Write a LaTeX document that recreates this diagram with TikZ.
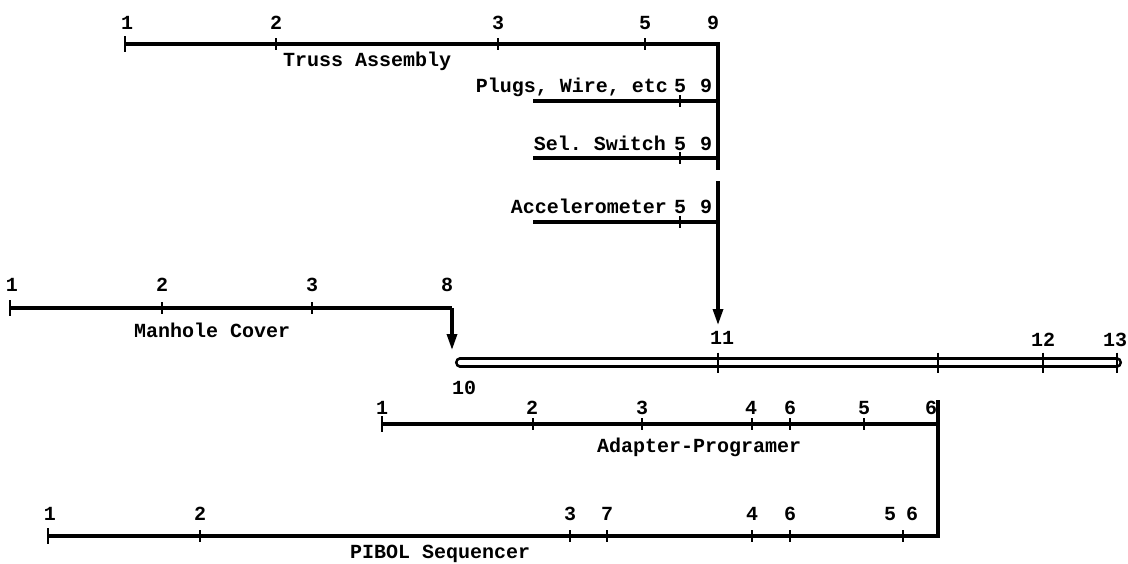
\documentclass[tikz,border=0pt]{standalone}
\usepackage{fontspec}
\setmonofont{Liberation Mono}
\usetikzlibrary{arrows.meta}
\begin{document}
\begin{tikzpicture}[x=1pt,y=-1pt,
  bar/.style={line width=3.2pt},
  tickmark/.style={line width=2pt},
  lbl/.style={font=\fontsize{20}{24}\selectfont\ttfamily\bfseries, inner sep=0pt},
  arr/.style={line width=3.2pt,-{Triangle[length=16pt,width=10pt]}},
  dbl/.style={line width=2.8pt,double=white,double distance=4.5pt,line cap=round}]
\useasboundingbox (0,0) rectangle (1128,563);
% ---------- Truss Assembly ----------
\coordinate (t1) at (125,44);
\coordinate (t2) at (276,44);
\coordinate (t3) at (498,44);
\coordinate (t5) at (645,44);
\coordinate (t9) at (718,44);
\coordinate (p0) at (533,101);
\coordinate (p5) at (680,101);
\coordinate (p9) at (718,101);
\coordinate (s0) at (533,158);
\coordinate (s5) at (680,158);
\coordinate (s9) at (718,158);
\coordinate (vend) at (718,170);
\coordinate (astart) at (718,181);
\coordinate (a0) at (533,222);
\coordinate (a5) at (680,222);
\coordinate (a9) at (718,222);
\coordinate (atip) at (718,325);
% ---------- Manhole ----------
\coordinate (m1) at (10,308);
\coordinate (m2) at (162,308);
\coordinate (m3) at (312,308);
\coordinate (m8) at (452,308);
\coordinate (mtip) at (452,350);
% ---------- double line ----------
\coordinate (d10) at (460,362.5);
\coordinate (d11) at (718,362.5);
\coordinate (dx) at (938,362.5);
\coordinate (d12) at (1043,362.5);
\coordinate (d13) at (1117,362.5);
% ---------- Adapter ----------
\coordinate (ad1) at (382,424);
\coordinate (ad2) at (533,424);
\coordinate (ad3) at (642,424);
\coordinate (ad4) at (752,424);
\coordinate (ad6a) at (790,424);
\coordinate (ad5) at (864,424);
\coordinate (ad6) at (938,424);
\coordinate (adtop) at (938,400);
% ---------- PIBOL ----------
\coordinate (pb1) at (48,536);
\coordinate (pb2) at (200,536);
\coordinate (pb3) at (570,536);
\coordinate (pb7) at (607,536);
\coordinate (pb4) at (752,536);
\coordinate (pb6) at (790,536);
\coordinate (pb56) at (903,536);
\coordinate (pbc) at (938,536);

% lines
\draw[bar] (t1) -- (t9) -- (vend);
\draw[bar] (p0) -- (p9);
\draw[bar] (s0) -- (s9);
\draw[bar] (a0) -- (a9);
\draw[arr] (astart) -- (atip);
\draw[bar] (m1) -- (m8);
\draw[arr] (m8) -- (mtip);
\draw[dbl] (d10) -- (d13);
\draw[bar] (ad1) -- (ad6);
\draw[bar] (pb1) -- (pbc) -- (adtop);

% ticks
\foreach \c in {t2,t3,t5,p5,s5,a5,m2,m3,ad2,ad3,ad4,ad6a,ad5,pb2,pb3,pb7,pb4,pb6,pb56}
  \draw[tickmark] ([yshift=6pt]\c) -- ([yshift=-6pt]\c);
\foreach \c in {t1,m1,ad1,pb1}
  \draw[tickmark] ([yshift=8pt]\c) -- ([yshift=-8pt]\c);
\foreach \c in {d11,dx,d12,d13}
  \draw[tickmark] ([yshift=10pt]\c) -- ([yshift=-10pt]\c);

% numbers
\node[lbl,anchor=base] (nt1) at (127,29) {1};
\node[lbl,anchor=base] (nt2) at (276,29) {2};
\node[lbl,anchor=base] (nt3) at (498,29) {3};
\node[lbl,anchor=base] (nt5) at (645,29) {5};
\node[lbl,anchor=base] (nt9) at (713,29) {9};
\node[lbl,anchor=base east] (lp) at (668,92) {Plugs, Wire, etc};
\node[lbl,anchor=base] (np5) at (680,92) {5};
\node[lbl,anchor=base] (np9) at (706,92) {9};
\node[lbl,anchor=base east] (ls) at (666,150) {Sel. Switch};
\node[lbl,anchor=base] (ns5) at (680,150) {5};
\node[lbl,anchor=base] (ns9) at (706,150) {9};
\node[lbl,anchor=base east] (la) at (667,213) {Accelerometer};
\node[lbl,anchor=base] (na5) at (680,213) {5};
\node[lbl,anchor=base] (na9) at (706,213) {9};
\node[lbl,anchor=base west] (lt) at (283,66) {Truss Assembly};

\node[lbl,anchor=base] (nm1) at (12,291) {1};
\node[lbl,anchor=base] (nm2) at (162,291) {2};
\node[lbl,anchor=base] (nm3) at (312,291) {3};
\node[lbl,anchor=base] (nm8) at (447,291) {8};
\node[lbl,anchor=base west] (lm) at (134,337) {Manhole Cover};

\node[lbl,anchor=base] (n11) at (722,344) {11};
\node[lbl,anchor=base] (n12) at (1043,346) {12};
\node[lbl,anchor=base] (n13) at (1115,346) {13};
\node[lbl,anchor=base] (n10) at (464,394) {10};

\node[lbl,anchor=base] (na1) at (382,414) {1};
\node[lbl,anchor=base] (na2) at (532,414) {2};
\node[lbl,anchor=base] (na3) at (642,414) {3};
\node[lbl,anchor=base] (na4) at (751,414) {4};
\node[lbl,anchor=base] (na6a) at (790,414) {6};
\node[lbl,anchor=base] (na5b) at (864,414) {5};
\node[lbl,anchor=base] (na6) at (931,414) {6};
\node[lbl,anchor=base west] (lad) at (597,452) {Adapter-Programer};

\node[lbl,anchor=base] (nb1) at (50,520) {1};
\node[lbl,anchor=base] (nb2) at (200,520) {2};
\node[lbl,anchor=base] (nb3) at (570,520) {3};
\node[lbl,anchor=base] (nb7) at (607,520) {7};
\node[lbl,anchor=base] (nb4) at (752,520) {4};
\node[lbl,anchor=base] (nb6) at (790,520) {6};
\node[lbl,anchor=base] (nb5) at (890,520) {5};
\node[lbl,anchor=base] (nb6b) at (912,520) {6};
\node[lbl,anchor=base west] (lpb) at (350,558) {PIBOL Sequencer};
\end{tikzpicture}
\end{document}
